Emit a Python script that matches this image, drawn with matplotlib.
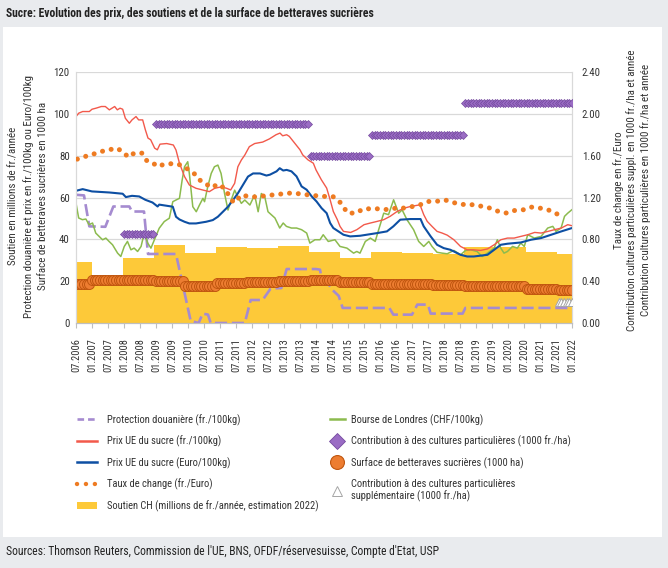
import numpy as np
import matplotlib
matplotlib.use("Agg")
import matplotlib.pyplot as plt
from matplotlib import font_manager
from matplotlib.lines import Line2D
from matplotlib.patches import Patch, Rectangle


def pick_font(names):
    for n in names:
        try:
            font_manager.findfont(font_manager.FontProperties(family=n), fallback_to_default=False)
            return n
        except ValueError:
            pass
    return "DejaVu Sans"


FONT = pick_font(["Liberation Sans Narrow", "Roboto Condensed", "Open Sans"])
print("font:", FONT)
plt.rcParams["font.family"] = [FONT, "DejaVu Sans"]

# --- data (x = months since 07.2006) ---
tick_labels = [("07." if k % 2 == 0 else "01.") + str(2006 + (k + 1) // 2) for k in range(32)]
N_MOIS = 186

annees = list(range(2006, 2023))
soutien = [29.4, 20.0, 31.2, 37.4, 33.4, 36.3, 35.8, 37.0, 33.8, 31.0, 33.9, 33.4, 32.8, 36.3, 36.3, 33.8, 33.0]
surface = [18.7, 20.7, 20.5, 20.3, 17.5, 19.1, 19.4, 19.9, 20.7, 19.7, 18.6, 18.6, 18.0, 17.5, 17.5, 16.2, 15.8]
contribution = [np.nan, np.nan, 0.85, 1.9, 1.9, 1.9, 1.9, 1.9, 1.6, 1.6, 1.8, 1.8, 1.8, 2.1, 2.1, 2.1, 2.1]
contribution_suppl = [np.nan] * 16 + [0.2]

prot_x = [0, 3, 5, 11, 14, 20, 21, 25.5, 27, 37.5, 43, 46, 47.5, 49.5, 50.5, 63.3, 65.5, 70, 73, 77, 79, 90,
          91.5, 92, 94, 96, 98.5, 100, 117.5, 119, 126, 128, 132, 133, 145, 146, 186]
prot_y = [61.3, 61, 46.2, 46, 55.7, 55.7, 53.3, 53.3, 33, 33, 1, 0, 4.5, 4, 0, 0, 11, 11, 16.5, 16.7, 25.8, 25.8,
          25.5, 22, 20, 16, 13, 7.2, 7.2, 4, 4, 8.8, 8.8, 4.5, 4.5, 7.2, 7.2]

rouge_x = [0, 1, 2.5, 5, 6, 7.5, 9.5, 11, 12.5, 13.5, 14.5, 15.5, 16.5, 17.5, 18.5, 20, 21, 22.5, 23.5, 25, 26, 27,
           28, 29.5, 30.5, 31.5, 34, 36.5, 37.5, 38.8, 40.7, 42.5, 45, 47.5, 50, 52, 54.5, 56.5, 58, 59.5, 60.7,
           62, 63.3, 65, 67, 70, 72.5, 75, 76.5, 77.5, 79, 80, 81.5, 84, 85, 87, 89, 90, 92, 94, 95.3, 96.5, 98,
           99, 100.3, 103, 105.3, 108, 110.4, 113, 115.4, 117.8, 120.4, 123, 125.4, 129, 130.4, 131.7, 133.5,
           135.4, 137.3, 139.2, 141.7, 144.2, 146.7, 149, 151.7, 154.3, 156.8, 159.3, 161.8, 164.3, 166.8,
           169.4, 172, 174.4, 177, 179.4, 182, 184.4, 186]
rouge_y = [98.7, 100.3, 101.1, 101.1, 102.2, 102.7, 103.5, 103.5, 101.9, 102.7, 103.5, 101.9, 102.7, 102.2, 97.9,
           95.5, 97.1, 98.7, 97.1, 97.1, 92.4, 88.4, 87.6, 83.6, 82.8, 85.5, 85.8, 85.1, 82.7, 76.4, 70, 66, 64.4,
           63.6, 62.8, 64.4, 65.1, 64.4, 63.6, 66.8, 74.7, 77.9, 80.3, 84.3, 85.8, 86.5, 88, 90, 90.8, 89.5, 90,
           89.2, 86.8, 82.8, 80.4, 78, 76.4, 73.2, 68.5, 64.5, 58.9, 53.3, 49.4, 46.2, 43.8, 43.3, 44.6, 47, 47.8,
           48.6, 49.4, 51, 53.3, 54.9, 55.7, 56.5, 51.8, 48.6, 46.2, 43.8, 43, 42, 39.8, 36.6, 35, 35, 34.7, 35.4,
           37.4, 39.8, 40.6, 40.6, 41.4, 42.2, 43.3, 43, 43.8, 44.6, 45.4, 47, 46.5]

bleu_x = [0, 2.5, 6, 12.5, 17.5, 18.7, 21, 23.7, 26, 28.7, 30.6, 31.2, 36.3, 37.5, 38.8, 40.7, 42.5, 45, 48.8, 51.3,
          53.2, 55.1, 57, 58.9, 60.7, 62.6, 64.5, 66.4, 69, 71.4, 72.7, 75.2, 76.4, 77.7, 79, 80.8, 82.7, 84.6,
          86.5, 88.4, 90.2, 92.1, 94, 95.3, 96.5, 98.4, 100.3, 102.8, 106.5, 109, 113, 116.6, 119, 121.6, 125.4,
          129.2, 130.4, 133, 135.4, 137.9, 140.4, 141.7, 144.2, 146.7, 149.2, 151.7, 154.3, 156.8, 159.3, 161.8,
          166.8, 170.6, 174.4, 178.2, 182, 186]
bleu_y = [63.2, 64, 62.9, 62.4, 61.8, 60.2, 60.8, 60.5, 58.9, 57.6, 55.7, 56.6, 55.6, 50.8, 49.5, 48.4, 47.6, 47.6,
          48.4, 49.2, 50.8, 53.2, 55.6, 58.8, 62, 66, 70, 71.5, 71.5, 70.5, 70.9, 72.5, 74, 72.9, 73.2, 72.5, 70.1,
          65.3, 63.7, 60.5, 58.1, 54.9, 52.5, 47.8, 45.4, 43.8, 42.2, 41.4, 41.7, 42.2, 43, 43.8, 46.2, 49.4, 49.7,
          49.7, 46.2, 41.4, 37.4, 35.8, 35, 34.2, 32.6, 31.8, 31.8, 32.2, 32.6, 35, 37.4, 37.9, 38.5, 39.8, 40.6,
          42.2, 43.8, 45.4]

vert_x = [0, 1, 2.4, 3.7, 4.9, 6.2, 7.4, 9.3, 10, 11.2, 12.4, 13.7, 15.6, 16.8, 18.1, 19.3, 20.6, 21.8, 23.1, 24.4,
          25.6, 26.9, 28.1, 29.4, 31.2, 33.1, 35, 36.3, 37.5, 38.8, 39.8, 40.7, 41.9, 42.5, 43.8, 45.1, 46.3, 47.6,
          48.2, 49.4, 50.7, 51.9, 53.2, 54.4, 55.7, 57, 58.2, 59.5, 60.7, 62, 63.3, 65.2, 67, 68.3, 69.5, 70.8, 72,
          74.6, 76.4, 77.7, 78.9, 80.8, 82.7, 84.6, 86.5, 87.7, 89.6, 91.5, 92.7, 94.6, 97.1, 99, 101.6, 104.1,
          105.3, 106.5, 108.5, 110.4, 112.2, 113.5, 115.4, 117.2, 119.1, 121, 122.3, 124.1, 126.6, 128.5, 130.4,
          132.3, 133.5, 135.4, 137.3, 139.2, 141.7, 144.2, 146.1, 148, 150.4, 152.3, 154.3, 156.8, 158, 159.3,
          160.5, 161.8, 163.7, 165.5, 166.8, 168.1, 169.4, 171.9, 174.4, 176.9, 178.8, 180, 181.9, 183.2, 184.4,
          185.9]
vert_y = [57.3, 50.2, 49.4, 49.7, 47, 47.8, 43, 40.6, 39.8, 40.6, 39, 37.4, 33.4, 31.8, 36.6, 39, 35, 35.8, 34.2,
          36.6, 43, 38.2, 35.8, 39.8, 45.3, 48.5, 50.1, 58, 58.8, 59.6, 68.3, 74.7, 77.1, 71.5, 55.6, 53.2, 56.4,
          59.6, 58, 65.1, 71.5, 74.7, 75.5, 71.5, 62, 54, 58.8, 63.5, 60.3, 57.2, 58.8, 56.4, 61.2, 53.2, 61.9, 60.3,
          53.2, 50.2, 45.4, 47.8, 46.2, 45.4, 45.4, 44.6, 43, 38.2, 39.8, 39.8, 42.2, 39, 39.8, 36.6, 35.8, 33.4,
          34.2, 33.4, 39, 40.6, 39, 44.6, 52.5, 51.8, 58.9, 52.5, 54.1, 49.4, 44.6, 39, 36.6, 39, 36.6, 33.8, 33.4,
          33.1, 34.7, 32.6, 34.7, 35, 34.2, 31.8, 33.4, 35.8, 39.8, 35.8, 33.4, 34.2, 36.6, 35.8, 38.2, 36.6, 42.2,
          40.6, 41.4, 45.4, 46.2, 43.8, 45.4, 51, 52.5, 54.1]

taux_x = [0.5, 3.4, 6.5, 9.5, 12.4, 15.2, 17.5, 19.6, 21.8, 24.7, 26.5, 28.4, 30.4, 32, 36.5, 39.4, 42.5, 45.1, 47,
          49.5, 51.3, 53.2, 55.1, 57.6, 59.1, 60.1, 62, 65.1, 68.3, 71.4, 74.6, 77.7, 80.4, 83.7, 86.7, 90, 93.4,
          96.3, 98.8, 101.9, 105, 107.8, 110.9, 113.8, 117.2, 120, 123.2, 126.4, 129.1, 131.9, 135, 138.2, 140.2,
          143.2, 146.1, 149.2, 152.3, 155.2, 158.4, 161.5, 164.5, 167.8, 170.8, 173.9, 177, 180, 183.1]
taux_y = [1.567, 1.592, 1.615, 1.64, 1.656, 1.672, 1.64, 1.586, 1.624, 1.624, 1.554, 1.541, 1.497, 1.51, 1.526,
          1.51, 1.462, 1.413, 1.35, 1.318, 1.334, 1.286, 1.302, 1.213, 1.15, 1.17, 1.224, 1.208, 1.205, 1.22, 1.226,
          1.236, 1.242, 1.236, 1.226, 1.217, 1.21, 1.21, 1.162, 1.051, 1.051, 1.092, 1.092, 1.092, 1.083, 1.099,
          1.099, 1.115, 1.131, 1.162, 1.162, 1.178, 1.162, 1.14, 1.131, 1.131, 1.115, 1.099, 1.067, 1.051, 1.076,
          1.083, 1.108, 1.099, 1.083, 1.045, 1.029]

# colours
C_JAUNE = "#fdc939"
C_ROUGE = "#f2594b"
C_BLEU = "#0d4fa3"
C_VERT = "#8cbb4e"
C_PROT = "#a58bd0"
C_ORANGE = "#ee7b22"
C_SURF = "#ed7d31"
C_SURF_BORD = "#c0560f"
C_VIOLET = "#9a6cc4"
C_VIOLET_BORD = "#74499e"

W = N_MOIS / (len(annees) - 1)  # yearly category width in months


def etendre(valeurs):
    """spread yearly values over the monthly positions of their category"""
    xs, ys = [], []
    for i, v in enumerate(valeurs):
        if np.isnan(v):
            continue
        lo = max(0, (i - 0.5) * W)
        hi = min(N_MOIS, (i + 0.5) * W)
        m = np.arange(np.ceil(lo), np.floor(hi) + 1)
        xs.extend(m)
        ys.extend([v] * len(m))
    return xs, ys


fig = plt.figure(figsize=(6.68, 5.68), dpi=100, facecolor="#e9ebee")
fig.add_artist(Rectangle((3 / 668, (568 - 537) / 568), 659 / 668, 510 / 568,
                         transform=fig.transFigure, facecolor="white", edgecolor="none", zorder=0))

ax = fig.add_axes([76 / 668, (568 - 323) / 568, 496 / 668, 251 / 568])
ax2 = ax.twinx()

# bars
ax.bar(np.arange(len(annees)) * W, soutien, width=W, color=C_JAUNE, zorder=1)

# lines (left axis)
ax.plot(prot_x, prot_y, color=C_PROT, lw=1.9, ls=(0, (4.6, 1.8)), zorder=3)
ax.plot(vert_x, vert_y, color=C_VERT, lw=1.1, zorder=3)
ax.plot(rouge_x, rouge_y, color=C_ROUGE, lw=1.0, zorder=3)
ax.plot(bleu_x, bleu_y, color=C_BLEU, lw=1.5, zorder=3)
sx, sy = etendre(surface)
ax.plot(sx, sy, ls="none", marker="o", ms=7.2, mfc=C_SURF, mec=C_SURF_BORD, mew=0.7, zorder=4)

# right axis
ax2.plot(taux_x, taux_y, color=C_ORANGE, lw=3.6, ls=(0, (0.01, 1.75)), dash_capstyle="round", zorder=3)
cx, cy = etendre(contribution)
ax2.plot(cx, cy, ls="none", marker="D", ms=4.5, mfc=C_VIOLET, mec=C_VIOLET_BORD, mew=0.5, zorder=4)
tx, ty = etendre(contribution_suppl)
ax2.plot(tx, ty, ls="none", marker="^", ms=6, mfc="white", mec="#a6a6a6", mew=0.7, zorder=4)

ax.set_xlim(0, N_MOIS)
ax.set_ylim(0, 120)
ax2.set_ylim(0, 2.4)
ax.set_yticks(np.arange(0, 121, 20))
ax2.set_yticks(np.arange(0, 2.41, 0.4))
ax2.set_yticklabels([f"{v:.2f}" for v in np.arange(0, 2.41, 0.4)])
ax.set_xticks(np.arange(0, N_MOIS + 1, 6))
ax.set_xticklabels(tick_labels, rotation=90)

ax.set_axisbelow(True)
ax.yaxis.grid(True, color="#d9d9d9", lw=0.9)
for a in (ax, ax2):
    a.spines["top"].set_visible(False)
    a.spines["left"].set_color("#d9d9d9")
    a.spines["right"].set_color("#d9d9d9")
    a.spines["bottom"].set_color("#bfbfbf")
ax.tick_params(axis="x", length=3.5, color="#bfbfbf", pad=7.5, labelsize=7.5, labelcolor="#333333")
ax.tick_params(axis="y", length=0, pad=4.5, labelsize=7.8, labelcolor="#333333")
ax2.tick_params(axis="y", length=0, pad=7, labelsize=7.8, labelcolor="#333333")

fig.text(28 / 668, (568 - 196) / 568,
         "Soutien en millions de fr./année\n"
         "Protection douanière et prix en fr./100kg ou Euro/100kg\n"
         "Surface de betteraves sucrières en 1000 ha",
         rotation=90, ha="center", va="center", multialignment="center", fontsize=7.9, linespacing=1.5,
         color="#333333")
fig.text(632 / 668, (568 - 190) / 568,
         "Taux de change en fr./Euro\n"
         "Contribution cultures particulières suppl. en 1000 fr./ha et année\n"
         "Contribution cultures particulières en 1000 fr./ha et année",
         rotation=90, ha="center", va="center", multialignment="center", fontsize=7.9, linespacing=1.3,
         color="#333333")

fig.text(6 / 668, (568 - 14) / 568,
         "Sucre: Evolution des prix, des soutiens et de la surface de betteraves sucrières",
         fontsize=8.4, fontweight="bold", va="center", color="#222222")
fig.text(6 / 668, (568 - 552) / 568,
         "Sources: Thomson Reuters, Commission de l'UE, BNS, OFDF/réservesuisse, Compte d'Etat, USP",
         fontsize=8.4, va="center", color="#222222")

# legend
h_gauche = [
    Line2D([], [], color=C_PROT, lw=1.9, ls=(0, (2.5, 1.5))),
    Line2D([], [], color=C_ROUGE, lw=1.8),
    Line2D([], [], color=C_BLEU, lw=1.8),
    Line2D([], [], color=C_ORANGE, lw=3.2, ls=(0, (0.01, 2.0)), dash_capstyle="round"),
    Patch(facecolor=C_JAUNE, edgecolor="none"),
]
l_gauche = [
    "Protection douanière (fr./100kg)",
    "Prix UE du sucre (fr./100kg)",
    "Prix UE du sucre (Euro/100kg)",
    "Taux de change (fr./Euro)",
    "Soutien CH (millions de fr./année, estimation 2022)",
]
h_droite = [
    Line2D([], [], color=C_VERT, lw=1.8),
    Line2D([], [], ls="none", marker="D", ms=8, mfc=C_VIOLET, mec=C_VIOLET_BORD, mew=0.6),
    Line2D([], [], ls="none", marker="o", ms=10, mfc=C_SURF, mec=C_SURF_BORD, mew=0.8),
    Line2D([], [], ls="none", marker="^", ms=7, mfc="white", mec="#a6a6a6", mew=0.7),
]
l_droite = [
    "Bourse de Londres (CHF/100kg)",
    "Contribution à des cultures particulières (1000 fr./ha)",
    "Surface de betteraves sucrières (1000 ha)",
    "Contribution à des cultures particulières\nsupplémentaire (1000 fr./ha)",
]
leg_kw = dict(loc="upper left", frameon=False, fontsize=7.6, borderpad=0, borderaxespad=0,
              labelspacing=0.95, labelcolor="#333333")
fig.legend(h_gauche, l_gauche, bbox_to_anchor=(77 / 668, (568 - 414) / 568),
           handlelength=1.9, handletextpad=0.9, **leg_kw)
fig.legend(h_droite, l_droite, bbox_to_anchor=(330 / 668, (568 - 414) / 568),
           handlelength=1.4, handletextpad=0.6, **leg_kw)

fig.savefig("out.png", dpi=100, facecolor=fig.get_facecolor())
